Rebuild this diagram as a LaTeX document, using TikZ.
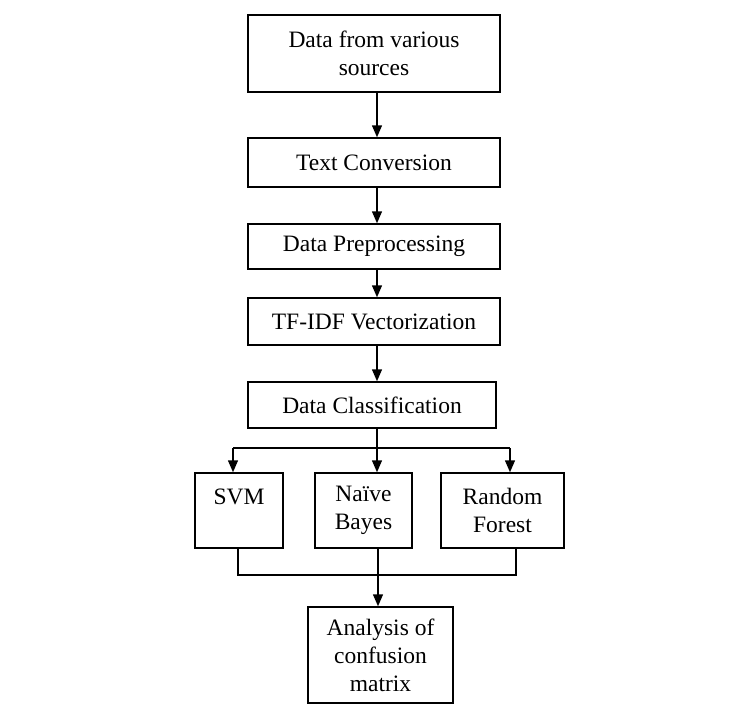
\documentclass[tikz,border=0pt]{standalone}
\usepackage{fontspec}
\setmainfont{Liberation Serif}
\usetikzlibrary{arrows.meta}
\begin{document}
\begin{tikzpicture}[x=1pt,y=-1pt,
  box/.style={draw, line width=1.5pt, align=center, inner sep=0pt,
    font=\fontsize{23.5}{28}\selectfont},
  arr/.style={line width=1.5pt, -{Triangle[width=10pt,length=12pt]}},
  ln/.style={line width=1.5pt}]
\useasboundingbox (0,0) rectangle (742,728);
\node[box, minimum width=252pt, minimum height=77pt] (b1) at (374,53.5) {Data from various\\sources};
\node[box, minimum width=252pt, minimum height=49pt] (b2) at (374,162.5) {Text Conversion};
\node[box, minimum width=252pt, minimum height=45pt] (b3) at (374,246.5) {Data Preprocessing};
\node[box, minimum width=252pt, minimum height=47pt] (b4) at (374,321.5) {TF-IDF Vectorization};
\node[box, minimum width=248pt, minimum height=46pt] (b5) at (372,405) {Data Classification};
\node[box, minimum width=88pt, minimum height=75pt] (svm) at (239,510.5) {SVM\\\mbox{}};
\node[box, minimum width=97pt, minimum height=75pt] (nb) at (363.5,510.5) {Naïve\\Bayes};
\node[box, minimum width=123pt, minimum height=75pt] (rf) at (502.5,510.5) {Random\\Forest};
\node[box, minimum width=145pt, minimum height=96pt] (an) at (380.5,655) {Analysis of\\confusion\\matrix};
\coordinate (spine) at (377,0);
\coordinate (bl) at (233,448);
\coordinate (bc) at (377,448);
\coordinate (br) at (510,448);
\coordinate (ml) at (238,575);
\coordinate (mc) at (378,575);
\coordinate (mr) at (516,575);
\draw[arr] (b1.south -| spine) -- (b2.north -| spine);
\draw[arr] (b2.south -| spine) -- (b3.north -| spine);
\draw[arr] (b3.south -| spine) -- (b4.north -| spine);
\draw[arr] (b4.south -| spine) -- (b5.north -| spine);
\draw[ln] (b5.south -| bc) -- (bc);
\draw[ln] (bl) -- (br);
\draw[arr] (bl) -- (svm.north -| bl);
\draw[arr] (bc) -- (nb.north -| bc);
\draw[arr] (br) -- (rf.north -| br);
\draw[ln] (svm.south -| ml) -- (ml) -- (mr) -- (rf.south -| mr);
\draw[ln] (nb.south -| mc) -- (mc);
\draw[arr] (mc) -- (an.north -| mc);
\end{tikzpicture}
\end{document}
